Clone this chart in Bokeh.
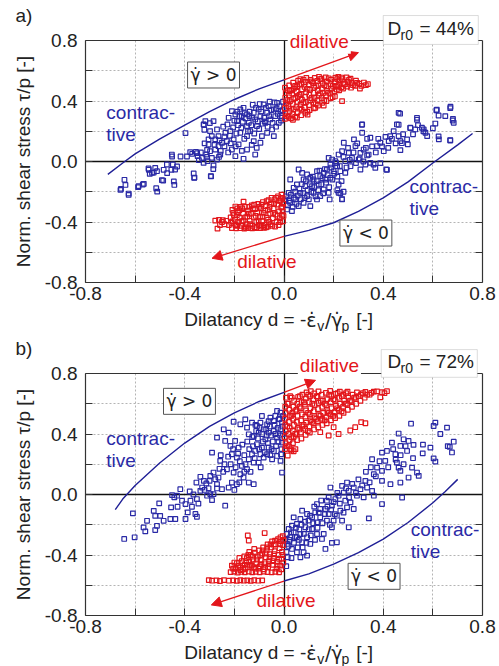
from bokeh.plotting import figure
from bokeh.layouts import column
from bokeh.models import (Range1d, FixedTicker, PrintfTickFormatter, LinearAxis, Grid,
                          Label, Arrow, NormalHead, BoxAnnotation)
from bokeh.embed import file_html
from bokeh.resources import INLINE

# ---------------- data (d, tau/p) ----------------
TICKS_MAJOR = [-0.8, -0.4, 0.0, 0.4, 0.8]
TICKS_MINOR = [-0.6, -0.2, 0.2, 0.6]
TICKS_RIGHT = [-0.6, -0.4, -0.2, 0.2, 0.4, 0.6]
GRID_TICKS = [-0.6, -0.4, -0.2, 0.2, 0.4, 0.6]
LIM = (-0.8, 0.8)

# panel a) Dr0 = 44 %
A_UP_BLUE = [(-0.659,-0.188),(-0.643,-0.121),(-0.639,-0.155),(-0.626,-0.221),(-0.588,-0.170),(-0.565,-0.148),
 (-0.545,-0.055),(-0.541,-0.082),(-0.525,-0.073),(-0.515,-0.177),(-0.511,-0.199),(-0.487,-0.126),(-0.485,-0.055),
 (-0.471,-0.077),(-0.454,-0.055),(-0.444,-0.132),(-0.442,-0.155),(-0.451,0.033),(-0.431,-0.033),(-0.417,0.033),
 (-0.397,0.188),(-0.391,0.033),(-0.370,0.051),(-0.361,-0.106),(-0.350,0.055),(-0.323,0.243),(-0.321,0.210),
 (-0.310,0.077),(-0.299,0.254),(-0.294,-0.099),(-0.378,0.062),(-0.355,0.064),(-0.348,0.035),(-0.343,0.009),
 (-0.331,0.024),(-0.324,-0.009),(-0.313,0.046),(-0.308,0.002),(-0.304,0.112),(-0.298,0.068),(-0.291,0.024),
 (-0.284,-0.026),(-0.295,-0.097),(-0.277,0.079),(-0.270,0.013),(-0.264,0.101),(-0.257,0.046),(-0.364,-0.079),
 (-0.362,-0.108),(-0.452,0.046),(-0.448,-0.020),(-0.439,-0.053),(-0.472,-0.020),(-0.519,-0.042),(-0.546,-0.046),
 (-0.532,-0.075),(-0.512,-0.064),(-0.492,-0.123),(-0.569,-0.152),(-0.586,-0.163),(-0.657,-0.181),(-0.626,-0.212),
 (-0.223,0.289),(-0.210,0.333),(-0.196,0.311),(-0.189,0.267),(-0.176,0.344),(-0.163,0.355),(-0.170,0.300),
 (-0.149,0.311),(-0.142,0.256),(-0.136,0.201),(-0.122,0.322),(-0.116,0.278),(-0.109,0.234),(-0.102,0.344),
 (-0.095,0.300),(-0.089,0.168),(-0.082,0.377),(-0.075,0.256),(-0.068,0.322),(-0.062,0.366),(-0.055,0.278),
 (-0.048,0.212),(-0.041,0.344),(-0.035,0.300),(-0.028,0.388),(-0.021,0.256),(-0.014,0.333),(-0.008,0.289),
 (-0.236,0.190),(-0.216,0.201),(-0.203,0.146),(-0.230,0.135),(-0.250,0.124),(-0.264,0.168),(-0.277,0.146),
 (-0.270,0.212),(-0.291,0.168),(-0.304,0.146),(-0.317,0.267),(-0.284,0.267),(-0.298,0.201),(-0.324,0.245),
 (-0.183,0.113),(-0.163,0.018),(-0.149,0.079),(-0.116,0.046),(-0.210,0.079),(-0.196,0.035),(-0.176,0.190),
 (-0.149,0.168),(-0.122,0.135),(-0.095,0.124),(-0.068,0.190),(-0.041,0.168),(-0.149,0.234),
 (-0.245,0.230),(-0.240,0.165),(-0.228,0.245),(-0.218,0.170),(-0.205,0.225),(-0.200,0.270),(-0.192,0.185),
 (-0.185,0.240),(-0.180,0.300),(-0.172,0.222),(-0.166,0.262),(-0.160,0.150),(-0.155,0.285),(-0.145,0.200),
 (-0.138,0.330),(-0.132,0.240),(-0.128,0.290),(-0.120,0.185),(-0.113,0.355),(-0.106,0.265),(-0.100,0.215),
 (-0.092,0.330),(-0.086,0.250),(-0.080,0.290),(-0.073,0.355),(-0.066,0.230),(-0.060,0.300),(-0.052,0.340),
 (-0.046,0.255),(-0.038,0.390),(-0.032,0.230),(-0.025,0.315),(-0.018,0.365),(-0.012,0.270),(-0.005,0.340),
 (-0.004,0.395),(-0.010,0.300),(-0.030,0.350),(-0.058,0.395),(-0.078,0.265),(-0.098,0.380),(-0.126,0.375),
 (-0.140,0.300),(-0.158,0.320),(-0.188,0.330),(-0.170,0.070),(-0.130,0.110),(-0.110,0.090),(-0.255,0.070),
 (-0.240,0.100),(-0.225,0.060),(-0.262,0.030),(-0.280,0.110),(-0.310,0.030),(-0.320,0.120),(-0.335,0.060),
 (-0.285,-0.050),(-0.260,0.140),(-0.215,0.120),(-0.195,0.100)]

A_UP_RED = [(0.004,0.282),(0.006,0.318),(0.003,0.352),(0.008,0.384),(0.005,0.421),(0.007,0.452),(0.004,0.488),
 (0.019,0.296),(0.022,0.331),(0.018,0.366),(0.024,0.398),(0.020,0.437),(0.023,0.468),(0.021,0.503),
 (0.036,0.276),(0.034,0.312),(0.039,0.345),(0.035,0.379),(0.038,0.412),(0.033,0.449),(0.040,0.482),(0.037,0.521),
 (0.052,0.290),(0.055,0.327),(0.050,0.360),(0.054,0.395),(0.056,0.430),(0.051,0.462),(0.053,0.497),(0.057,0.534),
 (0.069,0.306),(0.071,0.343),(0.067,0.376),(0.072,0.409),(0.068,0.445),(0.073,0.478),(0.070,0.512),(0.066,0.545),
 (0.086,0.322),(0.084,0.358),(0.088,0.392),(0.085,0.426),(0.089,0.459),(0.083,0.493),(0.087,0.527),(0.090,0.553),
 (0.103,0.340),(0.101,0.373),(0.106,0.405),(0.102,0.441),(0.105,0.474),(0.100,0.508),(0.107,0.540),
 (0.120,0.352),(0.118,0.390),(0.123,0.420),(0.119,0.455),(0.122,0.488),(0.117,0.520),(0.124,0.552),
 (0.137,0.370),(0.135,0.404),(0.140,0.436),(0.136,0.470),(0.139,0.502),(0.134,0.533),(0.141,0.560),
 (0.154,0.388),(0.152,0.420),(0.157,0.452),(0.153,0.485),(0.156,0.516),(0.151,0.547),
 (0.171,0.400),(0.169,0.436),(0.174,0.467),(0.170,0.498),(0.173,0.530),(0.168,0.556),
 (0.188,0.418),(0.186,0.450),(0.191,0.482),(0.187,0.512),(0.190,0.541),
 (0.205,0.430),(0.203,0.464),(0.208,0.495),(0.204,0.526),(0.207,0.554),
 (0.222,0.470),(0.220,0.505),(0.225,0.537),(0.219,0.560),(0.238,0.482),(0.241,0.514),(0.236,0.545),
 (0.254,0.495),(0.257,0.528),(0.252,0.556),(0.270,0.488),(0.273,0.520),(0.268,0.548),
 (0.286,0.500),(0.290,0.535),(0.303,0.515),(0.306,0.482),(0.322,0.522),(0.338,0.512),
 (0.234,0.399),(0.214,0.498),(0.126,0.355),(0.095,0.310),(0.160,0.370),
 (0.012,0.300),(0.013,0.405),(0.028,0.350),(0.029,0.470),(0.045,0.295),(0.046,0.420),(0.061,0.510),(0.062,0.350),
 (0.078,0.390),(0.079,0.540),(0.094,0.330),(0.095,0.480),(0.111,0.420),(0.112,0.530),(0.128,0.380),(0.129,0.500),
 (0.145,0.450),(0.146,0.545),(0.162,0.405),(0.163,0.505),(0.179,0.455),(0.180,0.550),(0.196,0.425),(0.197,0.500),
 (0.213,0.475),(0.214,0.545),(0.230,0.490),(0.231,0.555),(0.246,0.510),(0.262,0.540),(0.278,0.505),(0.295,0.520),
 (0.312,0.500),(0.330,0.505),(0.015,0.470),(0.045,0.500),(0.062,0.440),(0.028,0.285)]

A_LO_BLUE = [(0.462,0.322),(0.671,0.362),(0.614,0.339),(0.623,0.304),(0.681,0.282),(0.684,0.256),(0.610,0.251),
 (0.536,0.289),(0.509,0.223),(0.529,0.212),(0.563,0.212),(0.570,0.190),(0.577,0.168),(0.624,0.146),(0.670,0.141),
 (0.556,0.223),(0.455,0.245),(0.442,0.201),(0.428,0.168),(0.462,0.168),(0.469,0.135),(0.496,0.146),(0.499,0.113),
 (0.469,0.075),(0.409,0.163),(0.422,0.135),(0.388,0.124),(0.375,0.102),(0.402,0.068),(0.412,-0.053),(0.348,0.157),
 (0.335,0.150),(0.315,0.245),(0.315,0.190),(0.282,0.146),(0.288,0.102),(0.308,0.057),(0.321,0.079),(0.341,0.046),
 (0.348,-0.009),(0.361,-0.020),(0.368,-0.042),(0.328,-0.020),(0.301,0.013),(0.274,0.024),(0.241,0.124),(0.234,0.068),
 (0.261,0.057),(0.247,0.002),(0.268,-0.031),(0.308,-0.053),(0.220,0.046),(0.207,0.002),(0.194,0.013),(0.180,0.024),
 (0.187,-0.020),(0.214,-0.031),(0.227,-0.064),(0.247,-0.075),(0.200,-0.064),(0.173,-0.053),(0.160,-0.075),
 (0.146,-0.097),(0.167,-0.119),(0.187,-0.108),(0.133,-0.064),(0.119,-0.119),(0.106,-0.108),(0.093,-0.086),
 (0.079,-0.119),(0.073,-0.075),(0.059,-0.053),(0.052,-0.152),(0.086,-0.163),(0.113,-0.163),(0.140,-0.152),
 (0.160,-0.185),(0.180,-0.207),(0.220,-0.152),(0.220,-0.207),(0.234,-0.251),(0.184,-0.251),(0.146,-0.229),
 (0.119,-0.207),(0.093,-0.229),(0.066,-0.207),(0.039,-0.174),(0.025,-0.119),(0.019,-0.207),(0.046,-0.251),
 (0.025,-0.273),(0.059,-0.295),(0.032,-0.328),(0.012,-0.317),(0.005,-0.251),(0.079,-0.273),(0.106,-0.295),
 (0.133,-0.251),(0.468,0.316),(0.616,0.342),(0.670,0.353),(0.536,0.276),(0.680,0.271),(0.462,0.243),(0.509,0.221),
 (0.562,0.199),(0.623,0.166),(0.670,0.139),(0.475,0.121),(0.415,-0.055),(0.388,-0.011),(0.314,0.243),
 (0.227,-0.210),(0.234,-0.249),
 (0.010,-0.230),(0.015,-0.290),(0.020,-0.260),(0.028,-0.220),(0.035,-0.300),(0.040,-0.240),(0.045,-0.200),
 (0.050,-0.280),(0.055,-0.225),(0.062,-0.180),(0.068,-0.250),(0.072,-0.150),(0.078,-0.210),(0.083,-0.240),
 (0.088,-0.130),(0.095,-0.190),(0.100,-0.250),(0.104,-0.150),(0.110,-0.200),(0.116,-0.100),(0.122,-0.170),
 (0.127,-0.230),(0.132,-0.130),(0.138,-0.190),(0.143,-0.060),(0.150,-0.150),(0.155,-0.110),(0.158,-0.210),
 (0.165,-0.050),(0.170,-0.140),(0.176,-0.090),(0.182,-0.170),(0.190,-0.040),(0.195,-0.120),(0.203,-0.080),
 (0.210,-0.010),(0.215,-0.100),(0.225,-0.030),(0.232,-0.130),(0.240,0.030),(0.252,-0.040),(0.258,0.090),
 (0.265,0.010),(0.280,0.060),(0.290,-0.010),(0.295,0.120),(0.305,0.020),(0.320,0.000),(0.330,0.090),
 (0.335,0.040),(0.355,0.100),(0.370,0.060),(0.380,0.150),(0.395,0.100),(0.420,0.090),(0.435,0.150),
 (0.450,0.120),(0.480,0.180),(0.520,0.180),(0.540,0.240),(0.600,0.220),(0.650,0.300),(0.240,-0.200),(0.215,-0.190)]

A_LO_RED = [(-0.277,-0.391),(-0.262,-0.386),(-0.246,-0.388),(-0.268,-0.444),(-0.250,-0.400),(-0.232,-0.392),
 (-0.210,-0.440),(-0.193,-0.442),(-0.176,-0.441),(-0.160,-0.443),(-0.145,-0.440),(-0.128,-0.442),(-0.112,-0.440),
 (-0.096,-0.441),(-0.080,-0.438),(-0.215,-0.370),(-0.212,-0.405),(-0.205,-0.340),(-0.198,-0.385),(-0.196,-0.420),
 (-0.196,-0.298),(-0.190,-0.355),(-0.184,-0.400),(-0.180,-0.322),(-0.178,-0.372),(-0.172,-0.425),(-0.165,-0.345),
 (-0.163,-0.390),(-0.163,-0.265),(-0.158,-0.300),(-0.150,-0.415),(-0.148,-0.365),(-0.145,-0.325),(-0.138,-0.392),
 (-0.133,-0.345),(-0.130,-0.290),(-0.127,-0.425),(-0.122,-0.370),(-0.117,-0.315),(-0.112,-0.400),(-0.108,-0.340),
 (-0.104,-0.280),(-0.100,-0.420),(-0.097,-0.365),(-0.093,-0.310),(-0.088,-0.395),(-0.085,-0.268),(-0.082,-0.340),
 (-0.078,-0.420),(-0.074,-0.295),(-0.070,-0.372),(-0.066,-0.320),(-0.062,-0.255),(-0.060,-0.400),(-0.056,-0.345),
 (-0.052,-0.280),(-0.048,-0.425),(-0.045,-0.375),(-0.042,-0.310),(-0.038,-0.250),(-0.034,-0.350),(-0.030,-0.400),
 (-0.027,-0.285),(-0.024,-0.230),(-0.020,-0.330),(-0.017,-0.375),(-0.014,-0.260),(-0.011,-0.305),(-0.008,-0.352),
 (-0.006,-0.240),(-0.004,-0.395),(-0.003,-0.280),(-0.010,-0.220),(-0.032,-0.240),(-0.050,-0.240),(-0.070,-0.262),
 (-0.090,-0.285),(-0.120,-0.285),(-0.140,-0.300),(-0.175,-0.300),(-0.188,-0.310),(-0.005,-0.330),(-0.022,-0.420),
 (-0.065,-0.430),(-0.155,-0.430),(-0.208,-0.320),
 (-0.222,-0.420),(-0.206,-0.395),(-0.202,-0.355),(-0.189,-0.425),(-0.186,-0.335),(-0.171,-0.395),(-0.168,-0.310),
 (-0.156,-0.370),(-0.153,-0.440),(-0.142,-0.345),(-0.136,-0.415),(-0.125,-0.310),(-0.119,-0.435),(-0.114,-0.360),
 (-0.102,-0.395),(-0.099,-0.300),(-0.090,-0.430),(-0.086,-0.365),(-0.076,-0.325),(-0.072,-0.435),(-0.064,-0.385),
 (-0.058,-0.300),(-0.054,-0.415),(-0.044,-0.340),(-0.040,-0.280),(-0.036,-0.430),(-0.026,-0.360),(-0.019,-0.260),
 (-0.016,-0.400),(-0.007,-0.300),(-0.002,-0.360),(-0.012,-0.245),(-0.240,-0.415),(-0.258,-0.420)]

# panel b) Dr0 = 72 %
B_UP_BLUE = [(-0.644,-0.294),(-0.609,-0.125),(-0.602,-0.283),(-0.566,-0.218),(-0.559,-0.244),(-0.552,-0.174),
 (-0.525,-0.108),(-0.519,-0.141),(-0.512,-0.207),(-0.519,-0.235),(-0.499,-0.141),(-0.485,-0.174),(-0.503,-0.059),
 (-0.455,-0.085),(-0.451,-0.004),(-0.442,-0.019),(-0.431,-0.008),(-0.418,0.035),(-0.411,-0.041),(-0.438,-0.162),
 (-0.458,-0.162),(-0.429,-0.081),(-0.397,-0.162),(-0.388,-0.118),(-0.377,-0.041),(-0.371,-0.081),(-0.357,-0.129),
 (-0.351,-0.147),(-0.397,-0.063),(-0.351,-0.030),(-0.337,0.024),(-0.330,0.046),(-0.323,0.090),(-0.313,0.073),
 (-0.353,0.079),(-0.337,0.117),(-0.304,0.041),(-0.297,0.002),(-0.310,-0.008),(-0.290,-0.037),(-0.284,0.002),
 (-0.270,0.068),(-0.277,0.101),(-0.297,0.123),(-0.284,0.145),(-0.264,0.112),(-0.250,0.035),(-0.237,-0.074),
 (-0.240,0.200),(-0.230,0.167),(-0.257,0.222),(-0.290,0.277),(-0.270,0.376),(-0.243,0.431),(-0.223,0.409),
 (-0.237,0.354),(-0.197,0.354),(-0.190,0.244),(-0.210,0.266),(-0.203,0.145),(-0.210,0.079),(-0.223,0.046),
 (-0.190,0.068),(-0.176,0.134),(-0.170,0.189),(-0.163,0.112),(-0.149,0.167),(-0.142,0.079),(-0.122,0.068),
 (-0.156,0.497),(-0.149,0.442),(-0.142,0.398),(-0.129,0.475),(-0.122,0.387),(-0.109,0.453),(-0.095,0.475),
 (-0.089,0.519),(-0.102,0.409),(-0.082,0.431),(-0.068,0.464),(-0.055,0.508),(-0.041,0.486),(-0.035,0.519),
 (-0.028,0.552),(-0.014,0.541),(-0.021,0.497),(-0.008,0.475),(-0.075,0.365),(-0.062,0.409),(-0.041,0.420),
 (-0.028,0.376),(-0.014,0.431),(-0.008,0.343),(-0.041,0.288),(-0.062,0.310),(-0.089,0.310),(-0.109,0.332),
 (-0.116,0.288),(-0.095,0.266),(-0.129,0.266),(-0.142,0.233),(-0.122,0.211),(-0.102,0.211),(-0.082,0.244),
 (-0.068,0.266),(-0.048,0.233),(-0.028,0.255),(-0.014,0.222),(-0.008,0.145),(-0.203,0.481),(-0.176,0.464),
 (-0.216,0.321),(-0.183,0.310),
 (-0.245,0.150),(-0.225,0.250),(-0.215,0.200),(-0.205,0.300),(-0.195,0.180),(-0.185,0.270),(-0.178,0.220),
 (-0.168,0.330),(-0.160,0.260),(-0.155,0.200),(-0.148,0.350),(-0.140,0.300),(-0.135,0.150),(-0.128,0.380),
 (-0.125,0.320),(-0.118,0.240),(-0.112,0.420),(-0.105,0.370),(-0.100,0.300),(-0.094,0.180),(-0.088,0.400),
 (-0.085,0.350),(-0.078,0.280),(-0.072,0.430),(-0.070,0.390),(-0.065,0.340),(-0.058,0.450),(-0.052,0.390),
 (-0.050,0.300),(-0.045,0.350),(-0.038,0.460),(-0.035,0.400),(-0.032,0.320),(-0.025,0.440),(-0.022,0.350),
 (-0.018,0.500),(-0.015,0.390),(-0.010,0.300),(-0.006,0.450),(-0.004,0.400),(-0.004,0.520),(-0.012,0.265),
 (-0.055,0.260),(-0.160,0.150),(-0.180,0.080),(-0.200,0.030),(-0.260,0.170),(-0.270,0.040),(-0.320,0.030),
 (-0.345,-0.060),(-0.365,0.000),(-0.380,0.020),(-0.300,0.090),(-0.255,0.260),(-0.115,0.460),(-0.062,0.485),
 (-0.098,0.440)]

B_UP_RED = [(0.004,0.300),(0.006,0.340),(0.003,0.380),(0.007,0.420),(0.005,0.460),(0.004,0.500),(0.006,0.540),
 (0.005,0.580),(0.008,0.640),(0.020,0.320),(0.022,0.360),(0.019,0.400),(0.023,0.440),(0.020,0.480),(0.024,0.520),
 (0.021,0.560),(0.018,0.600),(0.025,0.650),(0.036,0.340),(0.039,0.380),(0.035,0.420),(0.040,0.460),(0.037,0.500),
 (0.034,0.540),(0.038,0.580),(0.041,0.620),(0.053,0.360),(0.051,0.400),(0.056,0.440),(0.052,0.480),(0.055,0.520),
 (0.050,0.560),(0.054,0.600),(0.057,0.645),(0.070,0.370),(0.068,0.410),(0.073,0.450),(0.069,0.490),(0.072,0.530),
 (0.067,0.570),(0.071,0.610),(0.074,0.660),(0.087,0.395),(0.085,0.435),(0.090,0.475),(0.086,0.515),(0.089,0.555),
 (0.084,0.595),(0.088,0.635),(0.091,0.675),(0.104,0.410),(0.102,0.450),(0.107,0.490),(0.103,0.530),(0.106,0.570),
 (0.101,0.610),(0.105,0.650),(0.108,0.683),(0.121,0.430),(0.119,0.470),(0.124,0.510),(0.120,0.550),(0.123,0.590),
 (0.118,0.630),(0.122,0.668),(0.138,0.445),(0.136,0.485),(0.141,0.525),(0.137,0.565),(0.140,0.605),(0.135,0.645),
 (0.139,0.682),(0.155,0.460),(0.153,0.500),(0.158,0.540),(0.154,0.580),(0.157,0.620),(0.152,0.660),
 (0.172,0.470),(0.170,0.510),(0.175,0.550),(0.171,0.590),(0.174,0.630),(0.169,0.672),
 (0.189,0.490),(0.187,0.530),(0.192,0.570),(0.188,0.610),(0.191,0.650),(0.186,0.685),
 (0.206,0.505),(0.204,0.545),(0.209,0.585),(0.205,0.625),(0.208,0.665),
 (0.223,0.520),(0.221,0.560),(0.226,0.600),(0.222,0.640),(0.225,0.680),
 (0.240,0.540),(0.238,0.580),(0.243,0.620),(0.239,0.660),(0.257,0.560),(0.255,0.600),(0.260,0.640),(0.256,0.680),
 (0.274,0.580),(0.272,0.620),(0.277,0.660),(0.291,0.600),(0.289,0.640),(0.294,0.675),(0.308,0.620),(0.310,0.660),
 (0.325,0.640),(0.328,0.678),(0.345,0.660),(0.362,0.680),(0.395,0.676),(0.415,0.683),(0.388,0.643),
 (0.311,0.478),(0.328,0.471),(0.287,0.445),(0.267,0.423),(0.220,0.400),(0.180,0.390),(0.200,0.445),(0.146,0.412),
 (0.039,0.286),(0.015,0.258),(0.026,0.300),
 (0.012,0.320),(0.013,0.450),(0.014,0.600),(0.029,0.380),(0.030,0.520),(0.031,0.640),(0.045,0.400),(0.046,0.550),
 (0.062,0.430),(0.063,0.580),(0.064,0.650),(0.079,0.460),(0.080,0.610),(0.096,0.420),(0.097,0.540),(0.098,0.660),
 (0.113,0.480),(0.114,0.600),(0.130,0.500),(0.131,0.650),(0.147,0.520),(0.148,0.620),(0.164,0.490),(0.165,0.600),
 (0.181,0.540),(0.182,0.660),(0.198,0.520),(0.199,0.630),(0.215,0.570),(0.216,0.670),(0.232,0.550),(0.233,0.650),
 (0.249,0.600),(0.250,0.670),(0.266,0.620),(0.283,0.640),(0.300,0.650),(0.318,0.670),(0.335,0.660),(0.352,0.672),
 (0.375,0.682),(0.405,0.670),(0.046,0.300),(0.030,0.290)]

B_LO_BLUE = [(0.610,0.475),(0.603,0.453),(0.657,0.442),(0.684,0.349),(0.668,0.315),(0.677,0.278),(0.590,0.310),
 (0.559,0.272),(0.603,0.239),(0.610,0.218),(0.512,0.468),(0.462,0.403),(0.482,0.365),(0.435,0.343),(0.502,0.354),
 (0.522,0.328),(0.469,0.321),(0.496,0.288),(0.449,0.266),(0.415,0.288),(0.395,0.277),(0.355,0.233),(0.408,0.222),
 (0.455,0.211),(0.482,0.200),(0.462,0.178),(0.469,0.156),(0.516,0.178),(0.536,0.145),(0.543,0.123),(0.502,0.112),
 (0.469,0.079),(0.476,-0.020),(0.429,0.068),(0.395,0.090),(0.395,0.156),(0.375,0.178),(0.362,0.134),(0.328,0.090),
 (0.308,0.035),(0.335,0.046),(0.355,0.024),(0.362,-0.008),(0.395,-0.063),(0.342,-0.158),(0.321,-0.019),
 (0.294,-0.008),(0.281,0.046),(0.254,0.079),(0.261,0.024),(0.234,0.057),(0.241,0.013),(0.247,-0.041),(0.268,-0.052),
 (0.281,-0.096),(0.254,-0.085),(0.220,-0.008),(0.207,-0.030),(0.187,0.046),(0.193,-0.074),(0.227,-0.107),
 (0.213,-0.140),(0.234,-0.173),(0.261,-0.217),(0.173,-0.041),(0.167,-0.096),(0.180,-0.129),(0.146,-0.096),
 (0.133,-0.063),(0.126,-0.118),(0.146,-0.151),(0.173,-0.173),(0.193,-0.217),(0.133,-0.184),(0.113,-0.151),
 (0.093,-0.129),(0.073,-0.107),(0.099,-0.173),(0.113,-0.228),(0.066,-0.162),(0.039,-0.151),(0.052,-0.195),
 (0.032,-0.206),(0.019,-0.228),(0.039,-0.250),(0.066,-0.261),(0.086,-0.217),(0.093,-0.283),(0.106,-0.327),
 (0.073,-0.316),(0.052,-0.283),(0.025,-0.283),(0.012,-0.261),(0.012,-0.327),(0.032,-0.360),(0.052,-0.382),
 (0.079,-0.382),(0.093,-0.404),(0.066,-0.415),(0.015,-0.415),(0.009,-0.474),(0.133,-0.261),(0.153,-0.294),
 (0.167,-0.360),(0.193,-0.320),(0.213,-0.316),(0.180,-0.019),(0.200,-0.173),
 (0.005,-0.300),(0.010,-0.380),(0.018,-0.340),(0.022,-0.300),(0.028,-0.250),(0.030,-0.420),(0.040,-0.320),
 (0.045,-0.280),(0.048,-0.220),(0.055,-0.350),(0.060,-0.300),(0.062,-0.230),(0.070,-0.200),(0.075,-0.350),
 (0.080,-0.260),(0.085,-0.180),(0.090,-0.320),(0.100,-0.230),(0.105,-0.140),(0.108,-0.270),(0.118,-0.190),
 (0.122,-0.080),(0.125,-0.300),(0.135,-0.220),(0.140,-0.120),(0.150,-0.040),(0.155,-0.190),(0.160,-0.260),
 (0.165,-0.130),(0.175,-0.080),(0.185,-0.200),(0.190,-0.100),(0.200,-0.050),(0.205,-0.130),(0.215,0.010),
 (0.225,-0.060),(0.240,-0.120),(0.250,0.040),(0.262,-0.020),(0.275,0.070),(0.290,0.010),(0.300,0.100),
 (0.315,0.060),(0.330,0.150),(0.345,0.080),(0.350,0.180),(0.370,0.120),(0.385,0.220),(0.420,0.180),
 (0.440,0.300),(0.450,0.230),(0.470,0.260),(0.490,0.320),(0.520,0.240),(0.560,0.330),(0.630,0.400),(0.660,0.320)]

B_LO_RED = [(-0.303,-0.566),(-0.290,-0.570),(-0.272,-0.568),(-0.258,-0.572),(-0.242,-0.566),(-0.222,-0.570),
 (-0.205,-0.568),(-0.190,-0.571),(-0.176,-0.567),(-0.162,-0.570),(-0.148,-0.568),(-0.134,-0.571),(-0.120,-0.567),
 (-0.104,-0.570),(-0.088,-0.568),(-0.215,-0.513),(-0.200,-0.510),(-0.186,-0.516),(-0.172,-0.512),(-0.158,-0.514),
 (-0.142,-0.510),(-0.128,-0.515),(-0.114,-0.511),(-0.098,-0.514),(-0.082,-0.510),(-0.066,-0.513),(-0.050,-0.515),
 (-0.035,-0.511),(-0.020,-0.514),(-0.210,-0.470),(-0.195,-0.490),(-0.190,-0.455),(-0.178,-0.480),(-0.170,-0.440),
 (-0.165,-0.495),(-0.158,-0.465),(-0.150,-0.420),(-0.146,-0.480),(-0.140,-0.445),(-0.134,-0.400),(-0.130,-0.470),
 (-0.125,-0.430),(-0.118,-0.385),(-0.115,-0.490),(-0.112,-0.455),(-0.106,-0.410),(-0.100,-0.370),(-0.098,-0.475),
 (-0.094,-0.435),(-0.088,-0.390),(-0.084,-0.350),(-0.082,-0.495),(-0.078,-0.455),(-0.073,-0.415),(-0.070,-0.370),
 (-0.066,-0.330),(-0.064,-0.480),(-0.060,-0.440),(-0.056,-0.395),(-0.052,-0.350),(-0.048,-0.310),(-0.046,-0.465),
 (-0.042,-0.420),(-0.038,-0.375),(-0.034,-0.330),(-0.030,-0.490),(-0.028,-0.445),(-0.024,-0.295),(-0.022,-0.400),
 (-0.018,-0.355),(-0.015,-0.470),(-0.012,-0.310),(-0.010,-0.425),(-0.008,-0.380),(-0.005,-0.275),(-0.004,-0.335),
 (-0.003,-0.450),(-0.140,-0.380),(-0.160,-0.410),(-0.180,-0.420),
 (-0.146,-0.271),(-0.142,-0.304),(-0.078,-0.255),(-0.041,-0.332),(-0.014,-0.283),
 (-0.205,-0.490),(-0.200,-0.450),(-0.185,-0.470),(-0.175,-0.500),(-0.168,-0.455),(-0.155,-0.490),(-0.152,-0.440),
 (-0.144,-0.400),(-0.137,-0.465),(-0.128,-0.410),(-0.121,-0.480),(-0.120,-0.360),(-0.109,-0.430),(-0.103,-0.490),
 (-0.096,-0.400),(-0.091,-0.460),(-0.086,-0.370),(-0.076,-0.480),(-0.075,-0.390),(-0.068,-0.350),(-0.062,-0.460),
 (-0.058,-0.415),(-0.054,-0.330),(-0.044,-0.440),(-0.040,-0.395),(-0.036,-0.305),(-0.026,-0.470),(-0.020,-0.425),
 (-0.016,-0.330),(-0.011,-0.495),(-0.006,-0.400),(-0.002,-0.300)]

# envelope curves drawn in the figure (d, tau/p)
A_ENV_UP = [(-0.71,-0.085),(-0.65,-0.01),(-0.60,0.05),(-0.50,0.15),(-0.40,0.24),(-0.30,0.33),(-0.20,0.41),(-0.10,0.48),(0.00,0.54)]
A_ENV_LO = [(0.00,-0.495),(0.10,-0.455),(0.20,-0.405),(0.30,-0.33),(0.40,-0.24),(0.50,-0.135),(0.60,-0.01),(0.70,0.11),(0.76,0.185)]
B_ENV_UP = [(-0.68,-0.10),(-0.65,-0.03),(-0.60,0.06),(-0.50,0.21),(-0.40,0.34),(-0.30,0.45),(-0.20,0.54),(-0.10,0.615),(0.00,0.675)]
B_ENV_LO = [(0.00,-0.572),(0.10,-0.525),(0.20,-0.46),(0.30,-0.385),(0.40,-0.295),(0.50,-0.185),(0.60,-0.055),(0.65,0.02),(0.70,0.10)]

# ---------------- styling ----------------
FONT = "Liberation Sans"
GREEK_FONT = "DejaVu Sans"
BLUE = "#2a2aa6"
BLUE_LINE = "#1f1f96"
RED = "#e3161b"
INK = "#222222"
FRAME = "#333333"
FS = "19px"
FS_SUB = "14px"

# pixel geometry of one panel: data box [-0.8, 0.8]^2 spans px 85..482 and py 40..282
W, H = 499, 333
PX_L, PX_R, PY_T, PY_B = 85, 482, 40, 282
SX = (PX_R - PX_L) / 1.6
SY = (PY_B - PY_T) / 1.6
X_RANGE = (-0.8 - PX_L / SX, 0.8 + (W - PX_R) / SX)
Y_RANGE = (-0.8 - (H - PY_B) / SY, 0.8 + PY_T / SY)


def unzip(pairs):
    return [p[0] for p in pairs], [p[1] for p in pairs]


def label(p, text, x, y, color=INK, size=FS, align="left", baseline="middle", font=FONT, **kw):
    p.add_layout(Label(x=x, y=y, text=text, text_font=font, text_font_size=size, text_color=color,
                       text_align=align, text_baseline=baseline, **kw))


def style_axis(ax):
    ax.major_tick_in = 7
    ax.major_tick_out = 0
    ax.minor_tick_in = 7
    ax.minor_tick_out = 0
    ax.major_tick_line_color = FRAME
    ax.minor_tick_line_color = FRAME
    ax.axis_line_color = FRAME
    ax.axis_line_width = 1.2
    ax.major_label_text_font = FONT
    ax.major_label_text_font_size = FS
    ax.major_label_text_color = INK


def bounded_lines(p, dim, ticks, color, width, dash):
    g = Grid(dimension=dim, ticker=FixedTicker(ticks=ticks), grid_line_color=color,
             grid_line_width=width, grid_line_dash=dash)
    try:
        g.cross_bounds = LIM
        p.add_layout(g)
    except AttributeError:
        for t in ticks:
            if dim == 0:
                p.line([t, t], list(LIM), line_color=color, line_width=width, line_dash=dash, level="underlay")
            else:
                p.line(list(LIM), [t, t], line_color=color, line_width=width, line_dash=dash, level="underlay")


def make_panel(cfg):
    p = figure(width=W, height=H, output_backend="svg", toolbar_location=None,
               x_range=Range1d(*X_RANGE), y_range=Range1d(*Y_RANGE),
               x_axis_location=None, y_axis_location=None, min_border=0,
               background_fill_color="white", border_fill_color="white")
    p.outline_line_color = None
    for r in list(p.center):
        if isinstance(r, Grid):
            r.visible = False

    ticker = FixedTicker(ticks=TICKS_MAJOR, minor_ticks=TICKS_MINOR)
    fmt = PrintfTickFormatter(format="%.1f")

    xax = LinearAxis(ticker=ticker, formatter=fmt, fixed_location=LIM[0], bounds=LIM)
    style_axis(xax)
    xax.major_label_standoff = 4
    p.add_layout(xax, "below")

    yax = LinearAxis(ticker=ticker, formatter=fmt, fixed_location=LIM[0], bounds=LIM)
    style_axis(yax)
    yax.major_label_standoff = 8
    yax.axis_label = "Norm. shear stress \u03c4/p [-]"
    yax.axis_label_text_font = FONT
    yax.axis_label_text_font_size = FS
    yax.axis_label_text_font_style = "normal"
    yax.axis_label_text_color = INK
    yax.axis_label_standoff = 8
    p.add_layout(yax, "left")

    # right frame edge: inward ticks only (no labels)
    rax = LinearAxis(ticker=FixedTicker(ticks=[], minor_ticks=TICKS_RIGHT), fixed_location=LIM[1], bounds=LIM)
    style_axis(rax)
    p.add_layout(rax, "right")

    bounded_lines(p, 0, GRID_TICKS, "#b4b4b4", 1, "2 2")
    bounded_lines(p, 1, GRID_TICKS, "#b4b4b4", 1, "2 2")
    bounded_lines(p, 0, [0.0], "#111111", 1.3, "solid")
    bounded_lines(p, 1, [0.0], "#111111", 1.3, "solid")
    bounded_lines(p, 1, [LIM[1]], FRAME, 1.2, "solid")   # top frame edge

    # envelope curves
    for env in (cfg["env_up"], cfg["env_lo"]):
        ex, ey = unzip(env)
        p.line(ex, ey, line_color=BLUE_LINE, line_width=1.4)

    # data
    for pts, col in ((cfg["up_blue"], BLUE), (cfg["lo_blue"], BLUE), (cfg["up_red"], RED), (cfg["lo_red"], RED)):
        xs, ys = unzip(pts)
        p.scatter(xs, ys, marker="square", size=4.6, fill_color=None, line_color=col, line_width=1.2)

    # arrows
    for (x0, y0, x1, y1) in cfg["arrows"]:
        p.add_layout(Arrow(end=NormalHead(size=10, fill_color=RED, line_color=RED, line_width=1),
                           x_start=x0, y_start=y0, x_end=x1, y_end=y1, line_color=RED, line_width=1.3))

    # texts
    label(p, cfg["tag"], -1.082, 0.965)
    tx, ty = cfg["dil_top"]
    label(p, "dilative", tx, ty, color=RED, align="center", background_fill_color="white", padding=2)
    tx, ty = cfg["dil_bot"]
    label(p, "dilative", tx, ty, color=RED, align="center")
    for (tx, ty) in cfg["contr"]:
        label(p, "contrac-", tx, ty, color=BLUE)
        label(p, "tive", tx, ty - 0.145, color=BLUE)
    tx, ty = cfg["gpos"]
    label(p, "\u03b3\u0307 > 0", tx, ty, align="center", font=GREEK_FONT, size="17px",
          background_fill_color="white", border_line_color="#555555", border_line_width=1, padding=3)
    tx, ty = cfg["gneg"]
    label(p, "\u03b3\u0307 < 0", tx, ty, align="center", font=GREEK_FONT, size="17px",
          background_fill_color="white", border_line_color="#555555", border_line_width=1, padding=3)

    l, r, t, b = cfg["drbox"]
    p.add_layout(BoxAnnotation(left=l, right=r, top=t, bottom=b, fill_color="white", fill_alpha=1.0,
                               line_color="#8a8a8a", line_width=1, level="annotation"))
    label(p, "D", 0.417, 0.877)
    label(p, "r0", 0.470, 0.838, size=FS_SUB)
    label(p, "= " + cfg["dr"], 0.546, 0.877)

    # x-axis title composed of pieces (subscripts, dotted Greek letters)
    label(p, "Dilatancy d = -", -0.402, -1.045)
    label(p, "\u03b5\u0307", 0.090, -1.045, font=GREEK_FONT)
    label(p, "v", 0.134, -1.085, size=FS_SUB)
    label(p, "/\u03b3\u0307", 0.165, -1.045, font=GREEK_FONT)
    label(p, "p", 0.232, -1.09, size=FS_SUB)
    label(p, "[-]", 0.291, -1.045)
    return p


cfg_a = dict(tag="a)", dr="44%", up_blue=A_UP_BLUE, up_red=A_UP_RED, lo_blue=A_LO_BLUE, lo_red=A_LO_RED,
             env_up=A_ENV_UP, env_lo=A_ENV_LO,
             arrows=[(0.0, 0.54, 0.30, 0.72), (0.0, -0.495, -0.29, -0.64)],
             dil_top=(0.142, 0.795), dil_bot=(-0.069, -0.661),
             contr=[(-0.716, 0.324), (0.506, -0.165)],
             gpos=(-0.284, 0.572), gneg=(0.33, -0.473),
             drbox=(0.400, 0.783, 0.965, 0.774))
cfg_b = dict(tag="b)", dr="72%", up_blue=B_UP_BLUE, up_red=B_UP_RED, lo_blue=B_LO_BLUE, lo_red=B_LO_RED,
             env_up=B_ENV_UP, env_lo=B_ENV_LO,
             arrows=[(0.0, 0.675, 0.127, 0.755), (0.0, -0.572, -0.293, -0.73)],
             dil_top=(0.183, 0.852), dil_bot=(0.008, -0.70),
             contr=[(-0.716, 0.372), (0.511, -0.233)],
             gpos=(-0.381, 0.616), gneg=(0.363, -0.541),
             drbox=(0.392, 0.779, 0.958, 0.775))

layout = column(make_panel(cfg_a), make_panel(cfg_b), spacing=0)
open("out.html", "w").write(file_html(layout, INLINE))
